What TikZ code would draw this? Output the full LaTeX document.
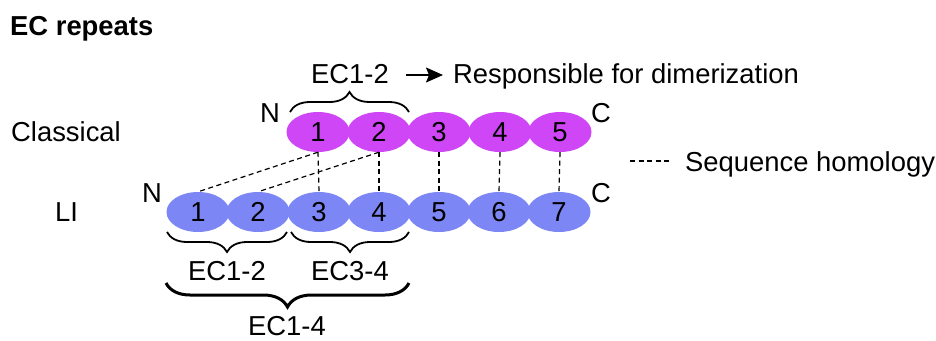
\documentclass[tikz,border=0pt]{standalone}
\usepackage{fontspec}
\setmainfont{Liberation Sans}
\usetikzlibrary{shapes.geometric,decorations.pathreplacing,arrows.meta}
\definecolor{classc}{RGB}{206,70,245}
\definecolor{lic}{RGB}{124,134,245}
\begin{document}
\begin{tikzpicture}[x=1pt,y=-1pt,
  every node/.style={font=\fontsize{27.4}{32}\selectfont, inner sep=0pt},
  dom/.style={ellipse, minimum width=63pt, minimum height=40pt, inner sep=0pt},
  cdom/.style={dom, fill=classc},
  ldom/.style={dom, fill=lic},
  homol/.style={dash pattern=on 5pt off 3.5pt, line width=1.2pt},
  brc/.style={decorate, decoration={brace, amplitude=#1}, line width=1.8pt},
]
\useasboundingbox (0,0) rectangle (936,340);
% title
\node[anchor=base west, font=\fontsize{27.4}{32}\selectfont\bfseries] (title) at (10,35) {EC repeats};
\node[anchor=base west] (classlbl) at (11,141) {Classical};
\node[anchor=base west] (lilbl) at (55,221) {LI};
% LI domains (drawn first)
\foreach \i/\x in {1/198,2/258,3/319,4/379,5/439,6/499,7/559}
  \node[ldom] (l\i) at (\x,212) {\i};
% classical domains
\foreach \i/\x in {1/318,2/379,3/439,4/500,5/560}
  \node[cdom] (c\i) at (\x,132) {\i};
% termini
\node[anchor=base] (nc) at (270,122) {N};
\node[anchor=base] (cc) at (601,122) {C};
\node[anchor=base] (nl) at (152,202) {N};
\node[anchor=base] (cl) at (601,202) {C};
% homology lines
\draw[homol] (c1.south) -- (l1.north);
\draw[homol] (c2.south) -- (l2.north);
\draw[homol] (c1.south) -- (l3.north);
\draw[homol] (c2.south) -- (l4.north);
\draw[homol] (c3.south) -- (l5.north);
\draw[homol] (c4.south) -- (l6.north);
\draw[homol] (c5.south) -- (l7.north);
% top brace and label
\draw[brc=20pt] (290,112) -- (409,112);
\node[anchor=base] (ectop) at (350,83) {EC1-2};
\node[anchor=base west] (resp) at (453,83) {Responsible for dimerization};
\draw[-{Stealth[length=17pt,width=15pt,inset=3pt]}, line width=1.6pt, shorten <=17pt, shorten >=10pt] (ectop.east |- 0,75) -- (resp.west |- 0,75);
% legend
\coordinate (lga) at (630,161);
\coordinate (lgb) at (670,161);
\draw[homol] (lga) -- (lgb);
\node[anchor=base west] (legend) at (685,171) {Sequence homology};
% bottom braces
\draw[brc=20pt] (287,232) -- (167,232);
\draw[brc=20pt] (409,232) -- (291,232);
\node[anchor=base] (ec12) at (227,280) {EC1-2};
\node[anchor=base] (ec34) at (350,280) {EC3-4};
\draw[brc=24pt, line width=3pt] (409,283) -- (166,283);
\node[anchor=base] (ec14) at (287,335) {EC1-4};
\end{tikzpicture}
\end{document}
